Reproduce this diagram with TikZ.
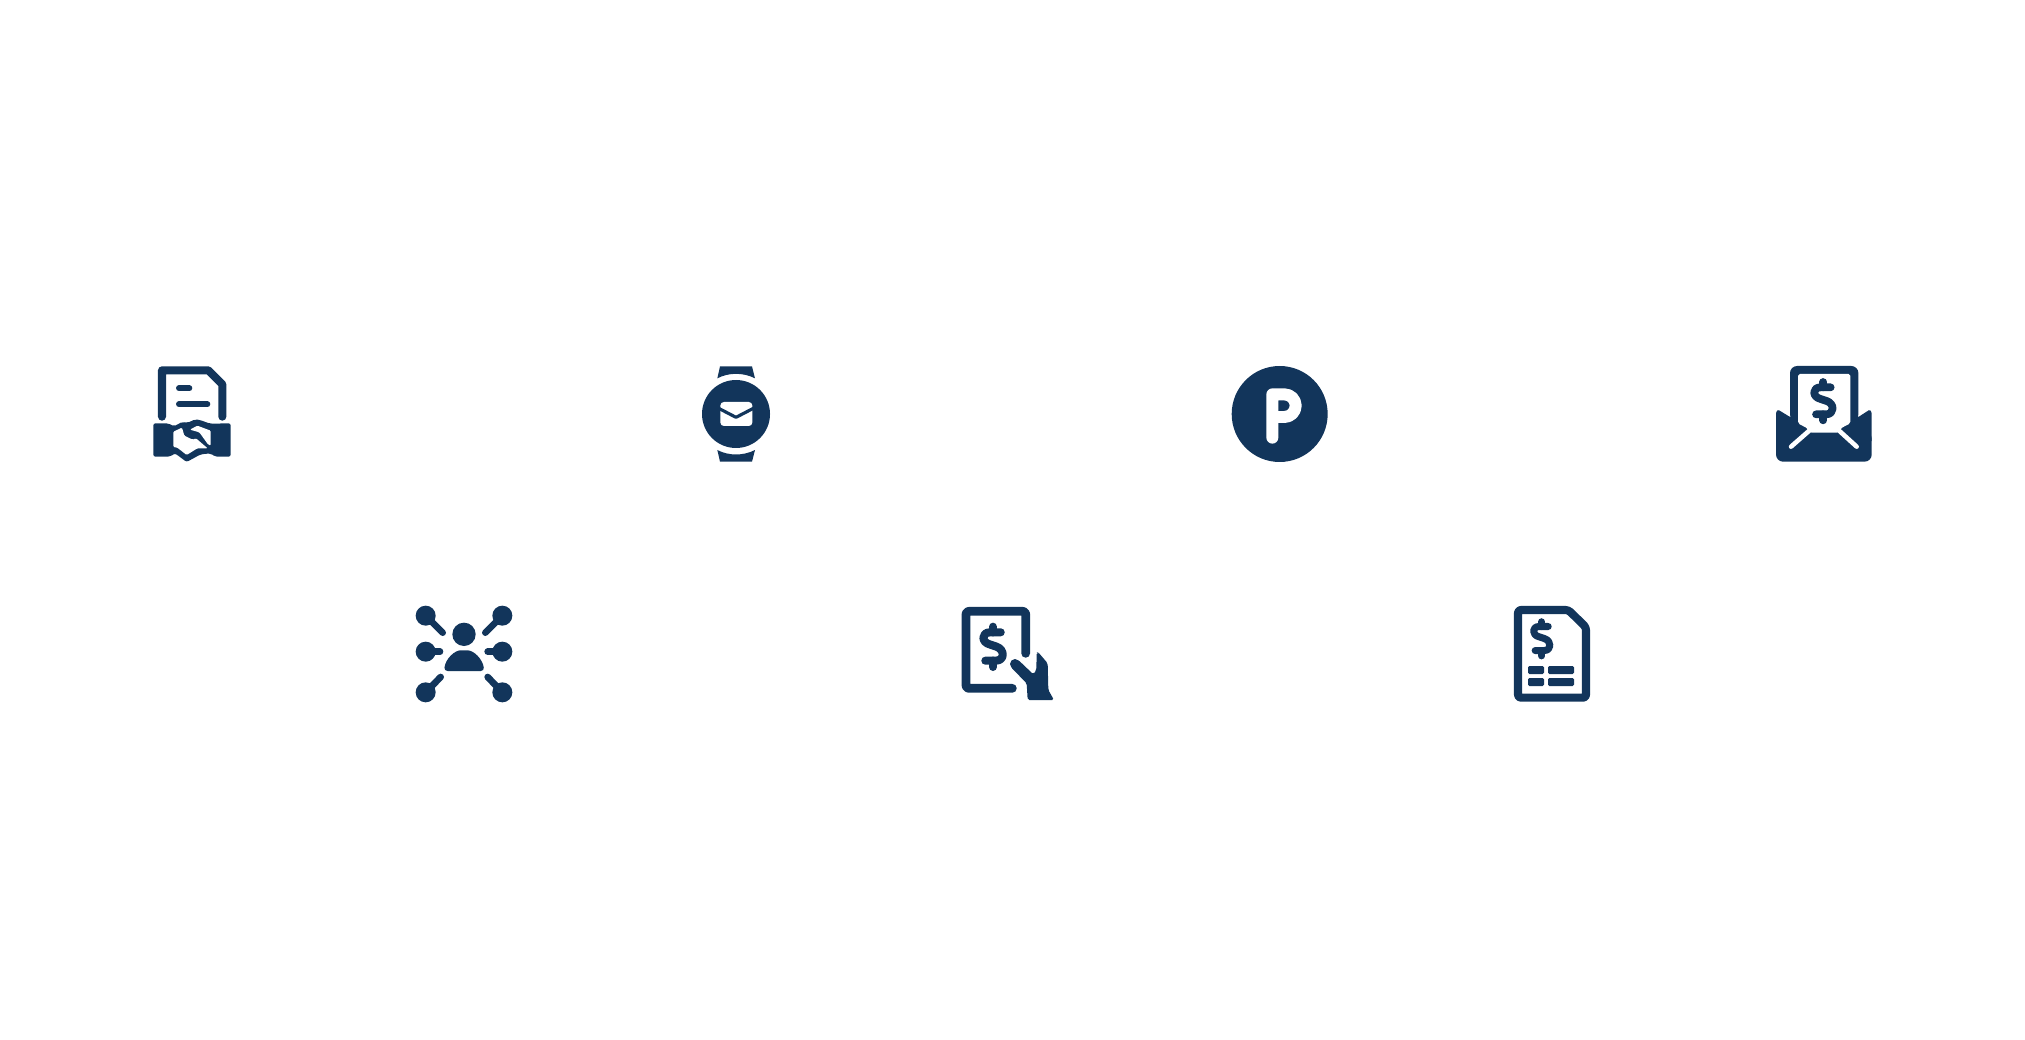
\documentclass[tikz,border=0pt]{standalone}
\definecolor{iconblue}{HTML}{12355B}
\tikzset{
  iconline/.style={draw=iconblue,line cap=round,line join=round},
  iconfill/.style={fill=iconblue},
  cutout/.style={fill=white},
  cutline/.style={draw=white,line cap=round,line join=round},
  dollarsign/.pic={
    \draw[iconline] (22,-41) -- (-8,-41) .. controls (-34,-41) and (-34,-12) .. (-8,-6)
      -- (10,0) .. controls (34,8) and (34,40) .. (8,40) -- (-22,40);
    \draw[iconline] (0,-41) -- (0,-57);
    \draw[iconline] (0,40) -- (0,58);
  }
}
\begin{document}
\begin{tikzpicture}[x=0.01cm,y=-0.01cm]
\useasboundingbox (0,0) rectangle (2025,1040);
% contract and handshake
\begin{scope}[shift={(140,355)},scale=1/3]
  \draw[iconline,line width=2.3pt] (66,185) -- (66,46) -- (205,46) -- (247,88) -- (247,185);
  \draw[iconline,line width=1.7pt] (117,100) -- (148,100);
  \draw[iconline,line width=1.7pt] (117,148) -- (202,148);
  \fill[iconfill,rounded corners=0.6pt] (40,205) -- (85,205) -- (102,214) -- (128,200) -- (142,204) -- (165,193)
    -- (180,195) -- (210,206) -- (272,205) -- (272,305) -- (225,305) -- (212,295) -- (182,298) -- (140,321)
    -- (105,295) -- (90,305) -- (40,305) -- cycle;
  \fill[cutout,rounded corners=0.3pt] (100,230) -- (126,218) -- (133,242) -- (158,254) -- (168,250) -- (203,280) -- (172,280)
    -- (140,300) -- (112,278) -- (100,276) -- cycle;
  \fill[cutout,rounded corners=0.3pt] (150,224) -- (172,212) -- (212,227) -- (212,272) -- (204,268) -- (178,232) -- cycle;
\end{scope}
% watch with envelope
\begin{scope}[shift={(690,355)},scale=1/3]
  \fill[iconfill] (138,177) circle (102);
  \fill[iconfill] (90,34) -- (186,34) -- (195,70) .. controls (160,52) and (116,52) .. (82,70) -- cycle;
  \fill[iconfill] (82,285) .. controls (116,303) and (160,303) .. (195,285) -- (186,320) -- (90,320) -- cycle;
  \fill[cutout,rounded corners=1pt] (91,141) rectangle (187,213);
  \draw[iconline,line width=0.9pt] (86,160) -- (138,187) -- (190,160);
\end{scope}
% parking sign
\begin{scope}[shift={(1225,355)},scale=1/3]
  \fill[iconfill] (164,177) circle (144);
  \draw[cutline,line width=3.4pt] (142,248) -- (142,118) -- (178,118) arc (-90:90:34) -- (142,186);
\end{scope}
% envelope with dollar
\begin{scope}[shift={(1775,355)},scale=1/3]
  \fill[iconfill,rounded corners=2pt] (45,33) rectangle (250,200);
  \fill[iconfill,rounded corners=0.3pt] (3,172) -- (9,164) -- (45,186) -- (250,186) -- (284,164) -- (290,172)
    -- (290,260) -- (3,260) -- cycle;
  \fill[iconfill,rounded corners=2pt] (3,230) rectangle (290,320);
  \fill[cutout,rounded corners=0.5pt] (69,57) -- (226,57) -- (226,205) -- (197,220) -- (190,233) -- (105,233)
    -- (97,220) -- (69,205) -- cycle;
  \draw[cutline,line width=1.3pt] (48,275) -- (105,225);
  \draw[cutline,line width=1.3pt] (190,225) -- (245,275);
  \pic[line width=2.2pt,transform shape] at (145,138) {dollarsign};
\end{scope}
% person and network
\begin{scope}[shift={(405,595)},scale=1/3]
  \fill[iconfill] (177,118) circle (35);
  \fill[iconfill,rounded corners=1pt] (117,228) .. controls (122,190) and (150,166) .. (177,166)
    .. controls (205,166) and (232,190) .. (238,228) -- cycle;
  \fill[iconfill] (62,62) circle (30);
  \fill[iconfill] (292,62) circle (30);
  \fill[iconfill] (62,170) circle (30);
  \fill[iconfill] (292,170) circle (30);
  \fill[iconfill] (62,292) circle (30);
  \fill[iconfill] (292,292) circle (30);
  \draw[iconline,line width=1.9pt] (62,62) -- (113,113);
  \draw[iconline,line width=1.9pt] (292,62) -- (241,113);
  \draw[iconline,line width=1.9pt] (62,170) -- (105,170);
  \draw[iconline,line width=1.9pt] (292,170) -- (248,170);
  \draw[iconline,line width=1.9pt] (62,292) -- (107,246);
  \draw[iconline,line width=1.9pt] (292,292) -- (248,246);
\end{scope}
% invoice and hand
\begin{scope}[shift={(955,595)},scale=1/3]
  \draw[iconline,line width=2.5pt,rounded corners=0.8pt] (172,280) -- (33,280) -- (33,49) -- (212,49) -- (212,175);
  \pic[line width=2.3pt,scale=1.05,transform shape] at (114,155) {dollarsign};
  \fill[iconfill] (180,207) circle (15);
  \fill[iconfill,rounded corners=0.5pt] (168,217) -- (215,265) -- (218,315) -- (297,315) -- (280,285) -- (278,205)
    -- (250,172) -- (245,172) -- (244,225) -- (235,238) -- (190,195) -- cycle;
\end{scope}
% bill with table
\begin{scope}[shift={(1505,595)},scale=1/3]
  \draw[iconline,line width=2.3pt,rounded corners=0.8pt] (39,45) -- (190,45) -- (243,97) -- (243,308) -- (39,308) -- cycle;
  \pic[line width=2pt,scale=0.89,transform shape] at (110,131) {dollarsign};
  \fill[iconfill,rounded corners=0.4pt] (69,213) rectangle (117,237);
  \fill[iconfill,rounded corners=0.4pt] (129,213) rectangle (207,237);
  \fill[iconfill,rounded corners=0.4pt] (69,249) rectangle (117,273);
  \fill[iconfill,rounded corners=0.4pt] (129,249) rectangle (207,273);
\end{scope}
\end{tikzpicture}
\end{document}
